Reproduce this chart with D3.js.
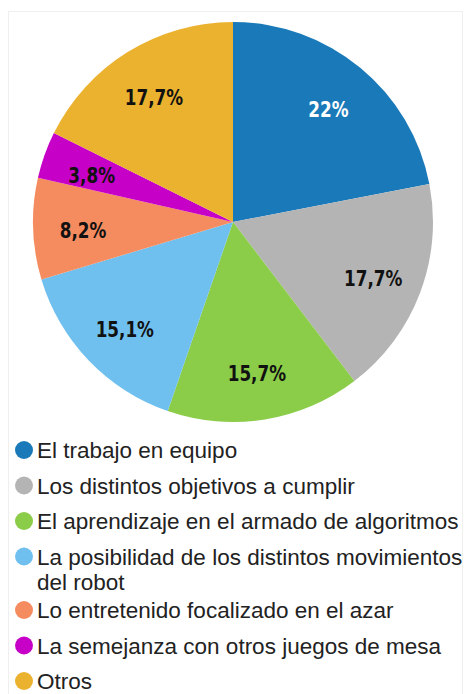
<!DOCTYPE html>
<html>
<head>
<meta charset="utf-8">
<script src="https://cdn.jsdelivr.net/npm/d3@7"></script>
<style>
  html, body { margin: 0; padding: 0; background: #fff; }
  svg { display: block; }
</style>
</head>
<body>
<svg id="chart" width="465" height="694"></svg>
<script>
const categories = [
  "El trabajo en equipo",
  "Los distintos objetivos a cumplir",
  "El aprendizaje en el armado de algoritmos",
  "La posibilidad de los distintos movimientos del robot",
  "Lo entretenido focalizado en el azar",
  "La semejanza con otros juegos de mesa",
  "Otros"
];
const values = [22, 17.7, 15.7, 15.1, 8.2, 3.8, 17.7];
const valueLabels = ["22%", "17,7%", "15,7%", "15,1%", "8,2%", "3,8%", "17,7%"];
const colors = ["#1a7ab9", "#b4b4b4", "#8bcc48", "#6fc0ee", "#f58c60", "#c600c6", "#ebb22f"];
const labelColors = ["#ffffff", "#111111", "#111111", "#111111", "#111111", "#111111", "#111111"];

const svg = d3.select("#chart");

// faint frame
svg.append("rect")
  .attr("x", 8.5).attr("y", 11.5).attr("width", 454).attr("height", 700)
  .attr("fill", "none").attr("stroke", "#efefef").attr("stroke-width", 1);

const cx = 233, cy = 222, R = 200;
const data = categories.map((c, i) => ({ name: c, value: values[i], label: valueLabels[i], color: colors[i], lc: labelColors[i] }));

const pie = d3.pie().value(d => d.value).sort(null);
const arcs = pie(data);
const arc = d3.arc().innerRadius(0).outerRadius(R);
const labelArc = d3.arc().innerRadius(150).outerRadius(150);

const g = svg.append("g").attr("transform", `translate(${cx},${cy})`);
g.selectAll("path.slice").data(arcs).join("path")
  .attr("class", "slice")
  .attr("d", arc)
  .attr("fill", d => d.data.color);

g.selectAll("text.val").data(arcs).join("text")
  .attr("class", "val")
  .attr("transform", d => { const c = labelArc.centroid(d); return `translate(${c[0]},${c[1] + 3}) scale(0.85,1)`; })
  .attr("text-anchor", "middle")
  .attr("dy", "0.36em")
  .attr("fill", d => d.data.lc)
  .style("font-family", "'DejaVu Sans Condensed', 'DejaVu Sans', sans-serif")
  .style("font-stretch", "condensed")
  .style("font-weight", "bold")
  .style("font-size", "22px")
  .text(d => d.data.label);

// legend
const legend = svg.append("g");
const maxW = 428;
let y = 458;
data.forEach((d, i) => {
  legend.append("circle").attr("cx", 24).attr("cy", y - 8).attr("r", 9).attr("fill", d.color);
  const t = legend.append("text")
    .attr("x", 37).attr("y", y)
    .attr("fill", "#222")
    .style("font-family", "'Liberation Sans', Arial, sans-serif")
    .style("font-size", "22.5px");
  const words = d.name.split(" ");
  let line = [];
  let tspan = t.append("tspan").attr("x", 37);
  let lines = 1;
  words.forEach(w => {
    line.push(w);
    tspan.text(line.join(" "));
    if (tspan.node().getComputedTextLength() > maxW && line.length > 1) {
      line.pop();
      tspan.text(line.join(" "));
      line = [w];
      tspan = t.append("tspan").attr("x", 37).attr("dy", 25).text(w);
      lines++;
    }
  });
  y += 35.5 + (lines - 1) * 18;
});
</script>
</body>
</html>
